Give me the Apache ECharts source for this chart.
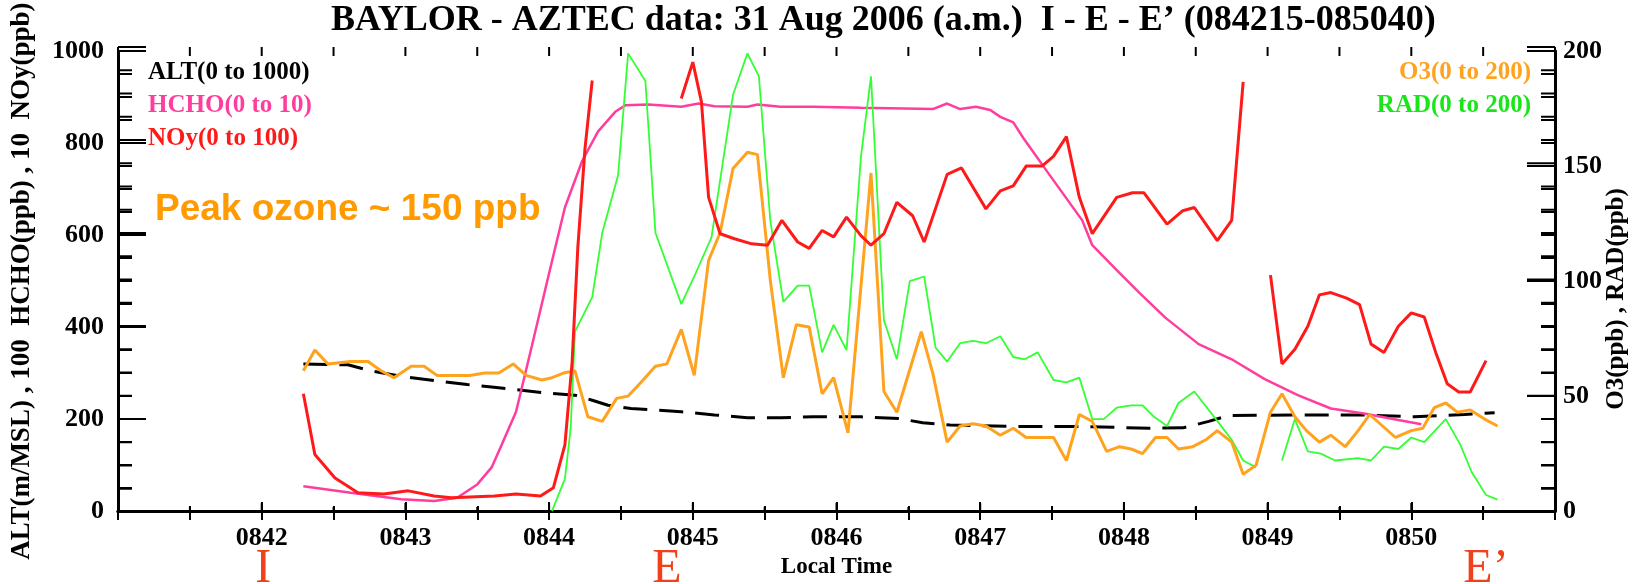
<!DOCTYPE html>
<html>
<head>
<meta charset="utf-8">
<script src="https://cdn.jsdelivr.net/npm/echarts@6/dist/echarts.min.js"></script>
<style>
  html, body { margin: 0; padding: 0; background: #fff; }
  #chart { width: 1648px; height: 584px; }
</style>
</head>
<body>
<div id="chart"></div>
<script>
// time = minutes after 08:00 local time, '-' marks a data gap
var altData = [[42.29,320],[42.6,318],[42.76,305],[42.97,293],[43.2,284],[43.43,275],[43.6,270],[44.0,256],
  [44.18,252],[44.3,241],[44.41,230],[44.57,223],[44.92,216],[45.15,209],[45.38,203],[45.61,203],[45.84,205],
  [46.17,205],[46.44,201],[46.6,192],[46.79,187],[47.25,184],[47.71,184],[48.18,180],[48.41,181],[48.59,195],
  [48.73,208],[49.21,209],[49.67,209],[50.02,205],[50.37,210],[50.58,214]];

// HCHO x100
var hchoData = [[42.29,54],[42.62,40],[42.97,26],[43.2,22],[43.36,29],[43.5,58],[43.6,95],[43.67,144],[43.77,216],
  [43.88,359],[44.0,517],[44.11,660],[44.23,761],[44.34,825],[44.46,868],[44.53,882],[44.69,884],[44.92,879],
  [45.04,886],[45.15,880],[45.38,879],[45.45,884],[45.61,879],[45.84,879],[46.17,877],[46.67,874],[46.77,886],
  [46.86,874],[46.97,879],[47.07,872],[47.14,857],[47.23,845],[47.3,811],[47.48,732],[47.71,632],[47.78,578],
  [47.95,524],[48.11,474],[48.29,420],[48.52,363],[48.75,330],[48.98,287],[49.21,252],[49.44,223],[49.67,212],
  [49.91,198],[50.07,189]];

// NOy x10
var noyData = [[42.29,255],[42.37,123],[42.51,72],[42.67,40],[42.85,37],[43.02,44],[43.2,33],[43.32,29],[43.62,33],
  [43.77,37],[43.94,33],[44.03,51],[44.11,144],[44.16,323],[44.2,574],[44.25,789],[44.3,936],[44.6,'-'],
  [44.92,897],[45.0,976],[45.06,890],[45.11,682],[45.19,603],[45.29,592],[45.41,581],[45.52,578],[45.62,632],
  [45.73,585],[45.81,571],[45.9,610],[45.98,596],[46.07,639],[46.17,599],[46.24,578],[46.33,603],[46.42,671],
  [46.53,642],[46.61,585],[46.77,732],[46.87,746],[47.04,657],[47.14,696],[47.23,707],[47.32,750],[47.43,750],
  [47.51,771],[47.6,814],[47.69,682],[47.78,603],[47.95,682],[48.06,692],[48.14,692],[48.3,624],[48.41,653],
  [48.49,660],[48.65,588],[48.75,632],[48.83,933],[48.9,'-'],
  [49.02,513],[49.1,320],[49.19,352],[49.28,402],[49.36,470],[49.44,475],[49.55,463],[49.64,449],[49.72,363],
  [49.81,345],[49.91,402],[50.0,431],[50.09,422],[50.17,345],[50.25,277],[50.33,259],[50.41,259],[50.52,327]];

var o3Data = [[42.29,61],[42.37,70],[42.46,64],[42.62,65],[42.74,65],[42.83,61],[42.92,58],[43.04,63],[43.13,63],
  [43.22,59],[43.32,59],[43.45,59],[43.55,60],[43.65,60],[43.75,64],[43.84,59],[43.95,57],[44.02,58],[44.1,60],
  [44.18,61],[44.27,41],[44.37,39],[44.47,49],[44.55,50],[44.64,56],[44.74,63],[44.82,64],[44.92,79],[45.01,59],
  [45.11,109],[45.19,121],[45.28,149],[45.38,156],[45.45,155],[45.54,100],[45.63,58],[45.72,81],[45.81,80],
  [45.9,51],[45.98,58],[46.08,34],[46.24,147],[46.33,52],[46.42,43],[46.59,78],[46.67,60],[46.77,30],[46.86,37],
  [46.95,38],[47.04,37],[47.14,33],[47.23,36],[47.32,32],[47.51,32],[47.6,22],[47.69,42],[47.78,39],[47.88,26],
  [47.97,28],[48.05,27],[48.13,25],[48.22,32],[48.3,32],[48.38,27],[48.48,28],[48.57,31],[48.65,35],[48.75,30],
  [48.83,16],[48.92,20],[49.02,43],[49.1,51],[49.19,41],[49.27,35],[49.36,30],[49.44,33],[49.54,28],[49.63,35],
  [49.71,42],[49.8,37],[49.89,32],[50.0,35],[50.08,36],[50.16,45],[50.24,47],[50.32,43],[50.41,44],[50.51,40],
  [50.6,37]];

var radData = [[44.02,0],[44.11,14],[44.15,36],[44.18,78],[44.3,93],[44.37,121],[44.48,146],[44.55,199],[44.67,187],
  [44.74,121],[44.92,90],[45.01,102],[45.13,119],[45.28,181],[45.38,199],[45.46,189],[45.54,126],[45.63,91],
  [45.73,98],[45.81,98],[45.9,69],[45.98,81],[46.07,70],[46.17,154],[46.24,189],[46.33,83],[46.42,66],[46.51,100],
  [46.61,102],[46.69,71],[46.77,65],[46.86,73],[46.95,74],[47.04,73],[47.14,76],[47.23,67],[47.31,66],[47.4,69],
  [47.51,57],[47.6,56],[47.69,58],[47.78,40],[47.86,40],[47.95,45],[48.05,46],[48.13,46],[48.21,41],[48.3,37],
  [48.38,47],[48.49,52],[48.64,40],[48.75,31],[48.83,22],[48.92,19],[49.0,'-'],
  [49.1,22],[49.19,40],[49.28,26],[49.37,25],[49.47,22],[49.63,23],[49.72,22],[49.81,28],[49.91,27],[50.0,32],
  [50.09,30],[50.24,40],[50.34,29],[50.42,17],[50.52,7],[50.6,5]];

var leftLegend = ['ALT(0 to 1000)', 'HCHO(0 to 10)', 'NOy(0 to 100)'];
var rightLegend = ['O3(0 to 200)', 'RAD(0 to 200)'];
var transectMarks = [['I', 42.01], ['E', 44.82], ['E\u2019', 50.52]];

var colors = { alt: '#000000', hcho: '#ff3d9e', noy: '#ff1a1a', o3: '#ffa31f', rad: '#33ff33', mark: '#f0401c' };
var serif = '"Liberation Serif", "DejaVu Serif", serif';

(function(){
  var myChart = echarts.init(document.getElementById('chart'));

  var grid = { left: 118, right: 93, top: 47, bottom: 72 };
  var tMin = 41, tMax = 51, leftMax = 1000, rightMax = 200;
  var x0 = grid.left, x1 = 1648 - grid.right, y0 = grid.top, y1 = 584 - grid.bottom;
  function tx(t) { return x0 + (t - tMin) / (tMax - tMin) * (x1 - x0); }
  function ly(v, max) { return y1 - v / max * (y1 - y0); }

  function frameLine() { return { show: true, lineStyle: { color: '#000', width: 3 } }; }
  function ticks(len) { return { show: true, inside: true, length: len, lineStyle: { color: '#000', width: 2 } }; }
  function minor(n, len) { return { show: true, splitNumber: n, length: len, lineStyle: { color: '#000', width: 2 } }; }
  var tickFont = { fontFamily: serif, fontWeight: 'bold', fontSize: 26, color: '#000' };

  var graphics = [];
  leftLegend.forEach(function(t, i){
    graphics.push({ type: 'text', left: 148, top: 60 + i * 33,
      style: { text: t, fill: [colors.alt, colors.hcho, colors.noy][i], font: 'bold 25px ' + serif } });
  });
  rightLegend.forEach(function(t, i){
    graphics.push({ type: 'text', right: 117, top: 60 + i * 33,
      style: { text: t, fill: [colors.o3, '#19e619'][i], font: 'bold 25px ' + serif, textAlign: 'right' } });
  });
  graphics.push({ type: 'text', left: 155, top: 191,
    style: { text: 'Peak ozone ~ 150 ppb', fill: '#ff9a00', font: 'bold 37px "Liberation Sans", Arial, sans-serif' } });
  // right axis title
  graphics.push({ type: 'text', x: 1617, y: 299, rotation: Math.PI / 2,
    style: { text: 'O3(ppb) , RAD(ppb)', fill: '#000', font: 'bold 25px ' + serif, textAlign: 'center', textVerticalAlign: 'middle' } });
  // transect letters under the time axis
  transectMarks.forEach(function(m){
    graphics.push({ type: 'text', x: tx(m[1]), y: 593,
      style: { text: m[0], fill: colors.mark, font: '48px ' + serif, textAlign: 'center', textVerticalAlign: 'bottom' } });
  });

  // inward frame ticks, same scale as the axes
  function tickLine(ax, ay, bx, by) {
    return { type: 'line', z: 50, silent: true,
      shape: { x1: ax, y1: ay, x2: bx, y2: by }, style: { stroke: '#000', lineWidth: 2 } };
  }
  for (var v = 0; v <= leftMax; v += 50) {
    var len = v % 200 === 0 ? 28 : 14;
    graphics.push(tickLine(x0, ly(v, leftMax), x0 + len, ly(v, leftMax)));
  }
  for (var r = 0; r <= rightMax; r += 10) {
    var rlen = r % 50 === 0 ? 28 : 14;
    graphics.push(tickLine(x1, ly(r, rightMax), x1 - rlen, ly(r, rightMax)));
  }
  for (var k = tMin * 2; k <= tMax * 2; k++) {
    var t = k / 2, isMajor = k % 2 === 0;
    graphics.push(tickLine(tx(t), y1, tx(t), y1 - (isMajor ? 9 : 5)));
    graphics.push(tickLine(tx(t), y0, tx(t), y0 + 9));
  }

  var option = {
    backgroundColor: '#fff',
    animation: false,
    title: {
      text: "BAYLOR - AZTEC data: 31 Aug 2006 (a.m.)  I - E - E\u2019 (084215-085040)",
      left: 326, top: -2,
      textStyle: { fontFamily: serif, fontWeight: 'bold', fontSize: 36, color: '#000' }
    },
    grid: grid,
    xAxis: [
      {
        type: 'value', min: tMin, max: tMax, interval: 1, position: 'bottom',
        axisLine: frameLine(), axisTick: ticks(9), minorTick: minor(2, 5), splitLine: { show: false },
        name: 'Local Time', nameLocation: 'middle', nameGap: 42,
        nameTextStyle: { fontFamily: serif, fontWeight: 'bold', fontSize: 23, color: '#000' },
        axisLabel: Object.assign({ margin: 14, formatter: function(v){
          return (v > tMin && v < tMax) ? '08' + v : '';
        } }, tickFont)
      },
      {
        type: 'value', min: tMin, max: tMax, interval: 1, position: 'top',
        axisLine: frameLine(), axisTick: ticks(9), minorTick: minor(2, 9), splitLine: { show: false },
        axisLabel: { show: false }
      }
    ],
    yAxis: [
      {
        type: 'value', min: 0, max: leftMax, interval: 200, position: 'left',
        name: 'ALT(m/MSL) , 100  HCHO(ppb) , 10  NOy(ppb)', nameLocation: 'middle', nameGap: 82,
        nameMoveOverlap: false,
        nameTextStyle: { fontFamily: serif, fontWeight: 'bold', fontSize: 27, color: '#000' },
        axisLine: frameLine(), axisTick: ticks(28), minorTick: minor(4, 14), splitLine: { show: false },
        axisLabel: Object.assign({ margin: 14, formatter: function(v){ return String(v); } }, tickFont)
      },
      {
        type: 'value', min: 0, max: rightMax, interval: 50, position: 'right',
        axisLine: frameLine(), axisTick: ticks(28), minorTick: minor(5, 14), splitLine: { show: false },
        axisLabel: Object.assign({ margin: 8, formatter: function(v){ return String(v); } }, tickFont)
      }
    ],
    graphic: graphics,
    series: [
      { name: 'ALT', type: 'line', yAxisIndex: 0, data: altData, showSymbol: false,
        lineStyle: { color: colors.alt, width: 3, type: [24, 12] } },
      { name: 'HCHO', type: 'line', yAxisIndex: 0, data: hchoData, showSymbol: false,
        lineStyle: { color: colors.hcho, width: 2.5 } },
      { name: 'RAD', type: 'line', yAxisIndex: 1, data: radData, showSymbol: false, connectNulls: false,
        lineStyle: { color: colors.rad, width: 1.8 } },
      { name: 'O3', type: 'line', yAxisIndex: 1, data: o3Data, showSymbol: false,
        lineStyle: { color: colors.o3, width: 3 } },
      { name: 'NOy', type: 'line', yAxisIndex: 0, data: noyData, showSymbol: false, connectNulls: false,
        lineStyle: { color: colors.noy, width: 3 } }
    ]
  };
  myChart.setOption(option);

  window.addEventListener('resize', function(){ myChart.resize(); });
})();
</script>
</body>
</html>
